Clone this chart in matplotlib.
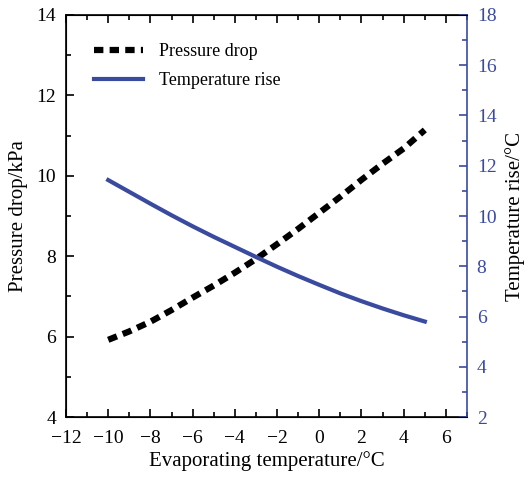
import matplotlib
matplotlib.use("Agg")
import matplotlib.pyplot as plt
from matplotlib.ticker import MultipleLocator, FuncFormatter

plt.rcParams['font.family'] = ['Liberation Serif', 'DejaVu Serif']

evap_temp = [-10, -9, -8, -7, -6, -5, -4, -3, -2, -1, 0, 1, 2, 3, 4, 5]
pressure_drop = [5.92, 6.13, 6.37, 6.66, 6.97, 7.27, 7.59, 7.93, 8.30, 8.68,
                 9.08, 9.48, 9.90, 10.30, 10.68, 11.14]
temp_rise = [11.43, 10.96, 10.49, 10.03, 9.59, 9.17, 8.77, 8.37, 7.98, 7.61,
             7.26, 6.92, 6.61, 6.32, 6.05, 5.8]

blue = '#3a4a9f'

fig = plt.figure(figsize=(5.31, 4.79), dpi=100)
ax = fig.add_axes([0.1243, 0.1294, 0.7552, 0.8393])
ax2 = ax.twinx()

l1, = ax.plot(evap_temp, pressure_drop, color='black', lw=4.5, linestyle=(0, (1.5, 1.0)),
              dash_capstyle='butt', label='Pressure drop')
l2, = ax2.plot(evap_temp, temp_rise, color=blue, lw=3, label='Temperature rise')

ax.set_xlim(-12, 7)
ax.set_ylim(4, 14)
ax2.set_ylim(2, 18)

ax.xaxis.set_major_locator(MultipleLocator(2))
ax.xaxis.set_minor_locator(MultipleLocator(1))
ax.yaxis.set_major_locator(MultipleLocator(2))
ax.yaxis.set_minor_locator(MultipleLocator(1))
ax2.yaxis.set_major_locator(MultipleLocator(2))
ax2.yaxis.set_minor_locator(MultipleLocator(1))

ax.tick_params(axis='both', which='major', direction='in', length=6, width=1.2, labelsize=14, top=True)
ax.tick_params(axis='both', which='minor', direction='in', length=3.5, width=1.2, top=True)
ax.tick_params(axis='x', which='major', pad=9)
ax.tick_params(axis='y', which='major', pad=7)
ax.tick_params(axis='y', which='both', right=False)
ax2.tick_params(axis='y', which='major', direction='in', length=6, width=1.2, labelsize=14,
                colors=blue, pad=7)
ax2.tick_params(axis='y', which='minor', direction='in', length=3.5, width=1.2, colors=blue)

for s in ['left', 'bottom', 'top']:
    ax.spines[s].set_linewidth(1.2)
ax2.spines['right'].set_color(blue)
ax2.spines['right'].set_linewidth(1.2)
ax.spines['right'].set_visible(False)

ax.xaxis.set_major_formatter(FuncFormatter(lambda v, p: f'{v:.0f}'.replace('-', '\u2212')))

ax.set_xlabel('Evaporating temperature/°C', fontsize=15, labelpad=3)
ax.set_ylabel('Pressure drop/kPa', fontsize=15, labelpad=6)
ax2.set_ylabel('Temperature rise/°C', fontsize=15, labelpad=6)

ax.legend(handles=[l1, l2], loc='upper left', frameon=False, fontsize=13,
          bbox_to_anchor=(0.03, 0.97), handlelength=2.7, handletextpad=0.9, labelspacing=0.65)

fig.savefig('out.png', dpi=100)
